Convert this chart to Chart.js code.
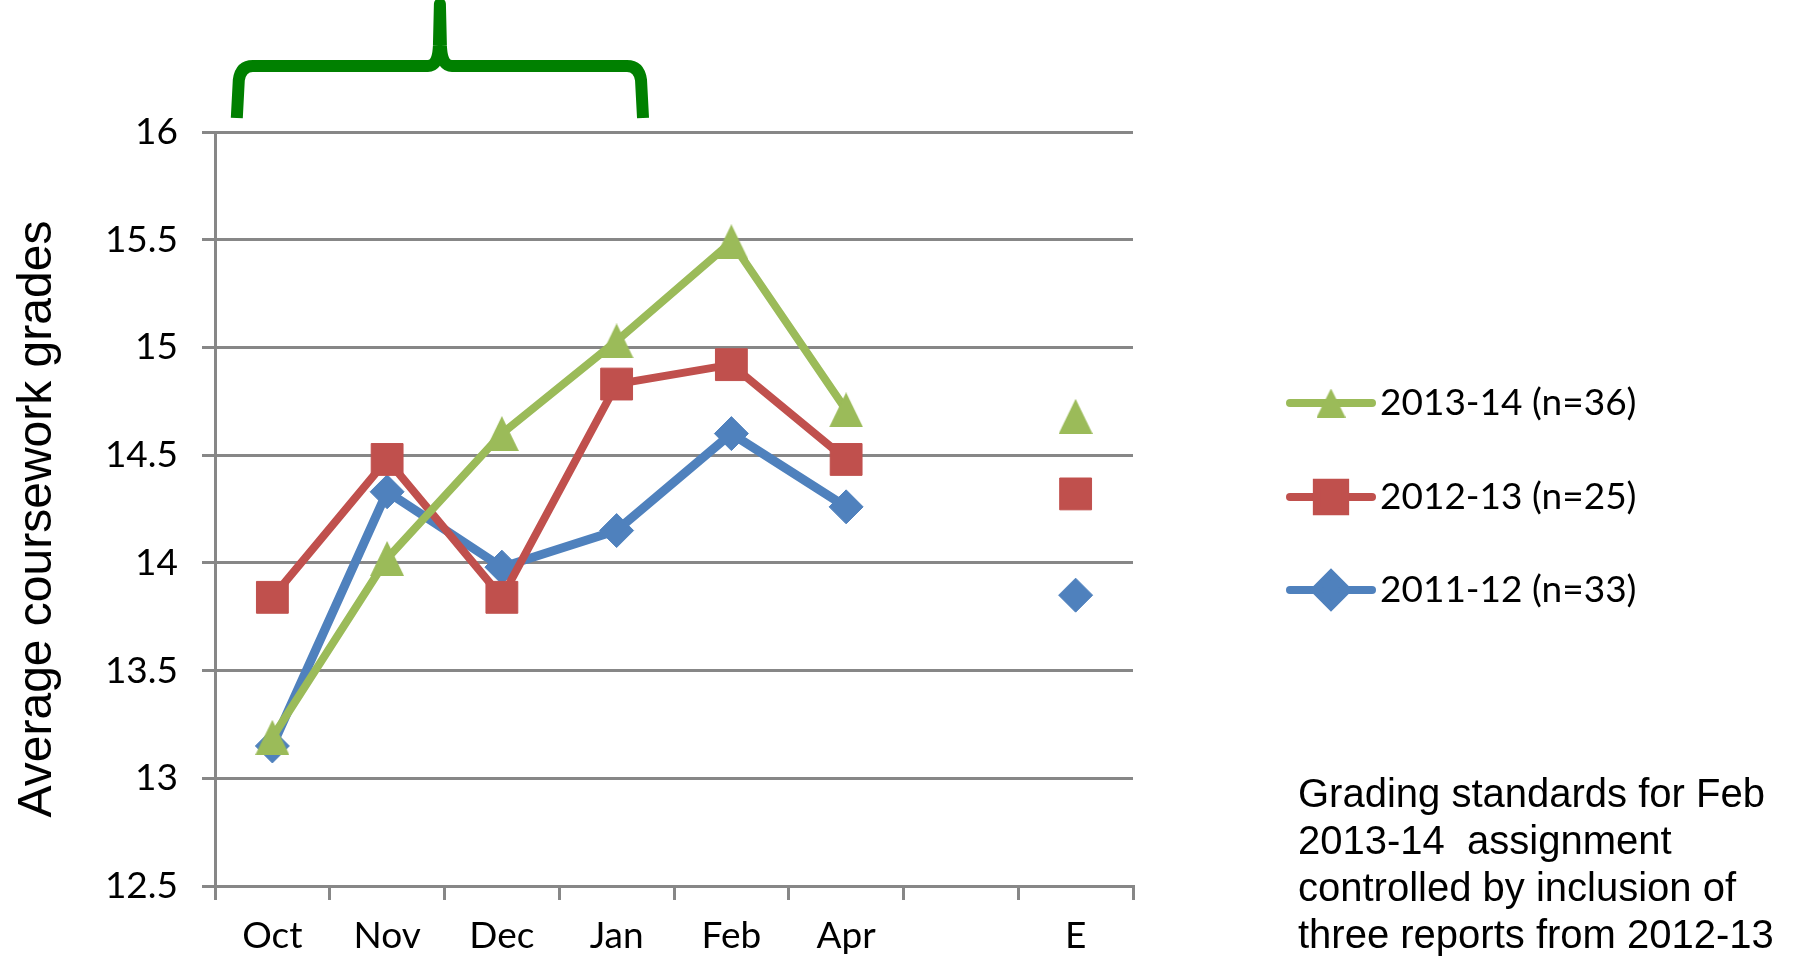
<!DOCTYPE html>
<html>
<head>
<meta charset="utf-8">
<script src="https://cdn.jsdelivr.net/npm/chart.js@4/dist/chart.umd.min.js"></script>
<style>
html,body{margin:0;padding:0;background:#fff;overflow:hidden}
#wrap{position:relative;width:1810px;height:966px}
#note{position:absolute;left:1298px;top:770px;font-family:"Liberation Sans",Arial,sans-serif;font-size:40px;line-height:47px;color:#000;white-space:pre}
</style>
</head>
<body>
<div id="wrap">
<canvas id="c" width="1810" height="966"></canvas>
<div id="note">Grading standards for Feb
2013-14  assignment
controlled by inclusion of
three reports from 2012-13</div>
</div>
<script>
// ---- data ----
const categories = ['Oct', 'Nov', 'Dec', 'Jan', 'Feb', 'Apr', '', 'E'];
const seriesLabels = ['2013-14 (n=36)', '2012-13 (n=25)', '2011-12 (n=33)'];
const values2013_14 = [13.19, 14.02, 14.60, 15.03, 15.49, 14.71, null, 14.68];
const values2012_13 = [13.84, 14.48, 13.84, 14.83, 14.92, 14.48, null, 14.32];
const values2011_12 = [13.15, 14.33, 13.98, 14.15, 14.60, 14.26, null, 13.85];
const yTickValues = [12.5, 13, 13.5, 14, 14.5, 15, 15.5, 16];
const yTickLabels = ['12.5', '13', '13.5', '14', '14.5', '15', '15.5', '16'];
const yAxisTitle = 'Average coursework grades';

const FONT = 'Lato, "Open Sans", sans-serif';
const GRID = '#878787';

function triangleImage(w, h, color) {
  const c = document.createElement('canvas');
  c.width = w; c.height = h;
  const g = c.getContext('2d');
  g.fillStyle = color;
  g.beginPath();
  g.moveTo(w / 2, 0);
  g.lineTo(w, h);
  g.lineTo(0, h);
  g.closePath();
  g.fill();
  return c;
}
const triMarker = triangleImage(34, 35, '#9BBB59');
const triLegend = triangleImage(29, 29, '#9BBB59');

const overlay = {
  id: 'overlay',
  afterDraw(chart) {
    const ctx = chart.ctx;
    const xs = chart.scales.x;
    const cat = (xs.right - xs.left) / categories.length;
    // brace over Oct..Jan
    const xL = xs.getPixelForValue(0) - 0.31 * cat;
    const xR = xs.getPixelForValue(3) + 0.23 * cat;
    const xM = xL + (xR - xL) * 0.5;
    const yB = 118, yH = 66, yT = 4;
    ctx.save();
    ctx.strokeStyle = '#008000';
    ctx.lineWidth = 12;
    ctx.lineJoin = 'round';
    ctx.lineCap = 'butt';
    ctx.beginPath();
    ctx.moveTo(xL, yB);
    ctx.lineTo(xL + 2, yH + 14);
    ctx.quadraticCurveTo(xL + 4, yH, xL + 16, yH);
    ctx.lineTo(xM - 12, yH);
    ctx.quadraticCurveTo(xM - 2, yH, xM - 1, yH - 20);
    ctx.lineTo(xM, yT);
    ctx.lineTo(xM + 1, yH - 20);
    ctx.quadraticCurveTo(xM + 2, yH, xM + 12, yH);
    ctx.lineTo(xR - 16, yH);
    ctx.quadraticCurveTo(xR - 4, yH, xR - 2, yH + 14);
    ctx.lineTo(xR, yB);
    ctx.stroke();
    ctx.restore();

    // y axis title
    ctx.save();
    ctx.translate(38, 519);
    ctx.rotate(-Math.PI / 2);
    ctx.font = '48px "Liberation Sans", Arial, sans-serif';
    ctx.fillStyle = '#000';
    ctx.textAlign = 'center';
    ctx.textBaseline = 'middle';
    ctx.fillText(yAxisTitle, 0, 0);
    ctx.restore();

    // legend
    const rows = [403, 497, 590];
    chart.data.datasets.forEach((ds, i) => {
      const cy = rows[i];
      ctx.save();
      ctx.strokeStyle = ds.borderColor;
      ctx.lineWidth = 8;
      ctx.lineCap = 'round';
      ctx.beginPath();
      ctx.moveTo(1290, cy);
      ctx.lineTo(1372, cy);
      ctx.stroke();
      ctx.fillStyle = ds.backgroundColor;
      ctx.strokeStyle = ds.backgroundColor;
      if (Chart.helpers && Chart.helpers.drawPoint) {
        Chart.helpers.drawPoint(ctx, {pointStyle: ds.legendStyle, radius: ds.legendRadius, borderWidth: 1, rotation: 0}, 1331, cy);
      }
      ctx.fillStyle = '#000';
      ctx.font = '37px ' + FONT;
      ctx.textAlign = 'left';
      ctx.textBaseline = 'middle';
      ctx.fillText(ds.label, 1380, cy);
      ctx.restore();
    });
  }
};

function mk(label, data, color, style, r, bw, legendStyle, lr) {
  return {
    label, data,
    borderColor: color, backgroundColor: color,
    pointBackgroundColor: color, pointBorderColor: color,
    pointStyle: style, pointRadius: r, pointHoverRadius: r,
    pointBorderWidth: 1, borderWidth: bw, tension: 0, spanGaps: false,
    legendStyle, legendRadius: lr
  };
}

new Chart(document.getElementById('c'), {
  type: 'line',
  data: {
    labels: categories,
    datasets: [
      mk(seriesLabels[0], values2013_14, '#9BBB59', triMarker, 18, 8, triLegend, 15),
      mk(seriesLabels[1], values2012_13, '#C0504D', 'rect', 22.5, 8, 'rect', 20),
      mk(seriesLabels[2], values2011_12, '#4F81BD', 'rectRot', 17, 9, 'rectRot', 16)
    ]
  },
  options: {
    responsive: false,
    animation: false,
    devicePixelRatio: 1,
    layout: {padding: {top: 132, right: 677, bottom: 0, left: 0}},
    plugins: {legend: {display: false}, tooltip: {enabled: false}},
    scales: {
      x: {
        offset: true,
        grid: {offset: true, drawOnChartArea: false, drawTicks: true, tickLength: 14, color: GRID, lineWidth: 3},
        border: {display: true, color: GRID, width: 3},
        ticks: {font: {family: FONT, size: 37}, color: '#000', padding: 14, autoSkip: false, maxRotation: 0},
        afterFit(s) { s.height = 80; }
      },
      y: {
        min: 12.5, max: 16,
        afterBuildTicks(s) { s.ticks = yTickValues.map(v => ({value: v})); },
        grid: {color: GRID, lineWidth: 3, tickLength: 13},
        border: {display: true, color: GRID, width: 3},
        ticks: {
          font: {family: FONT, size: 37}, color: '#000', padding: 24,
          callback: (v) => { const i = yTickValues.indexOf(v); return i >= 0 ? yTickLabels[i] : ''; }
        },
        afterFit(s) { s.width = 215; }
      }
    }
  },
  plugins: [overlay]
});
</script>
</body>
</html>
